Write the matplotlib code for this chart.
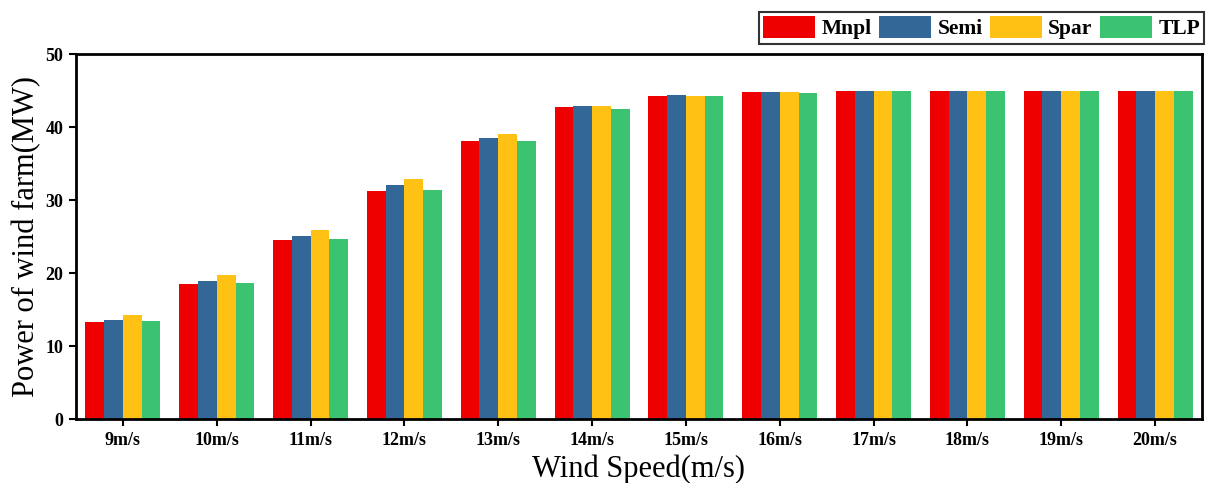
import numpy as np
import matplotlib
matplotlib.use('Agg')
import matplotlib.pyplot as plt

plt.rcParams['font.family'] = ['Liberation Serif', 'DejaVu Serif']

speeds = ['9m/s', '10m/s', '11m/s', '12m/s', '13m/s', '14m/s',
          '15m/s', '16m/s', '17m/s', '18m/s', '19m/s', '20m/s']
mnpl = [13.3, 18.5, 24.5, 31.2, 38.1, 42.7, 44.3, 44.8, 44.9, 45.0, 45.0, 45.0]
semi = [13.6, 18.9, 25.1, 32.1, 38.5, 42.9, 44.4, 44.8, 45.0, 45.0, 45.0, 45.0]
spar = [14.2, 19.7, 25.9, 32.9, 39.0, 42.9, 44.3, 44.8, 45.0, 45.0, 45.0, 45.0]
tlp = [13.4, 18.6, 24.7, 31.4, 38.1, 42.5, 44.2, 44.7, 44.9, 45.0, 45.0, 45.0]

series = [('Mnpl', mnpl, '#EE0000'), ('Semi', semi, '#336797'),
          ('Spar', spar, '#FFC114'), ('TLP', tlp, '#3CC371')]

fig = plt.figure(figsize=(12.06, 4.83), dpi=100)
ax = fig.add_axes([0.063, 0.1325, 0.9337, 0.7555])

x = np.arange(len(speeds))
w = 0.2
for i, (name, vals, col) in enumerate(series):
    ax.bar(x + (i - 1.5) * w, vals, w, color=col, label=name)

ax.set_xlim(-0.5, 11.5)
ax.set_ylim(0, 50)
ax.set_yticks([0, 10, 20, 30, 40, 50])
ax.set_xticks(x)
ax.set_xticklabels(speeds)
for lab in ax.get_xticklabels() + ax.get_yticklabels():
    lab.set_fontweight('bold')
    lab.set_fontsize(13)
for s in ax.spines.values():
    s.set_linewidth(2)
ax.tick_params(width=1.5, length=5, pad=4)

ax.set_xlabel('Wind Speed(m/s)', fontsize=22, labelpad=4)
ax.set_ylabel('Power of wind farm(MW)', fontsize=22, labelpad=3)

leg = fig.legend(loc='upper right', bbox_to_anchor=(0.9985, 0.976), ncol=4,
                 prop={'weight': 'bold', 'size': 15.5}, frameon=True, fancybox=False,
                 edgecolor='black', handlelength=2.4, handleheight=1.2,
                 handletextpad=0.3, columnspacing=0.35, borderpad=0.2,
                 borderaxespad=0)
leg.get_frame().set_linewidth(1.5)

fig.savefig('out.png', dpi=100)
